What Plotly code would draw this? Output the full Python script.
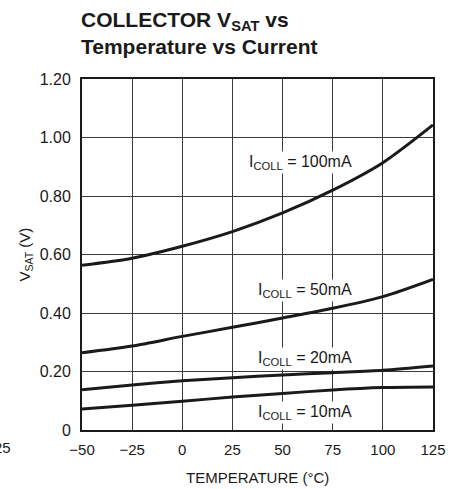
import plotly.graph_objects as go

temperature = [-50, -25, 0, 25, 50, 75, 100, 125]
vsat_100ma = [0.563, 0.587, 0.628, 0.678, 0.742, 0.820, 0.914, 1.043]
vsat_50ma = [0.264, 0.287, 0.320, 0.351, 0.383, 0.416, 0.456, 0.515]
vsat_20ma = [0.138, 0.154, 0.168, 0.179, 0.188, 0.196, 0.204, 0.219]
vsat_10ma = [0.072, 0.085, 0.098, 0.113, 0.125, 0.137, 0.145, 0.147]

x_ticks = [-50, -25, 0, 25, 50, 75, 100, 125]
x_tick_text = ["\u221250", "\u221225", "0", "25", "50", "75", "100", "125"]
y_ticks = [0, 0.2, 0.4, 0.6, 0.8, 1.0, 1.2]
y_tick_text = ["0", "0.20", "0.40", "0.60", "0.80", "1.00", "1.20"]

labels = ["I<sub>COLL</sub> = 100mA", "I<sub>COLL</sub> = 50mA",
          "I<sub>COLL</sub> = 20mA", "I<sub>COLL</sub> = 10mA"]
label_x = [59, 61, 61, 61]
label_y = [0.915, 0.478, 0.243, 0.061]

FONT = "Liberation Sans, Arial, sans-serif"
INK = "#1a1a1a"

L, R, T, B = 82, 30, 79, 59
W, H = 463, 489
PW, PH = W - L - R, H - T - B

fig = go.Figure()
for ys in [vsat_100ma, vsat_50ma, vsat_20ma, vsat_10ma]:
    fig.add_trace(go.Scatter(x=temperature, y=ys, mode="lines",
                             line=dict(color=INK, width=3, shape="spline", smoothing=0.8),
                             showlegend=False, hoverinfo="skip"))

for t, xx, yy in zip(labels, label_x, label_y):
    fig.add_annotation(x=xx, y=yy, xref="x", yref="y", text=t, showarrow=False,
                       font=dict(family=FONT, size=16, color=INK),
                       bgcolor="white", borderpad=1)

# title as annotation (pixel-placed relative to plot area)
fig.add_annotation(x=(79 - L) / PW, y=(H - B - 6) / PH, xref="paper", yref="paper",
                   xanchor="left", yanchor="top", align="left", showarrow=False,
                   text="<b>COLLECTOR V<sub>SAT</sub> vs<br>Temperature vs Current</b>",
                   font=dict(family=FONT, size=21, color=INK))

# x-axis title
fig.add_annotation(x=0.5, y=(H - B - 477) / PH, xref="paper", yref="paper",
                   text="TEMPERATURE (\u00b0C)", showarrow=False,
                   xanchor="center", yanchor="middle",
                   font=dict(family=FONT, size=15, color=INK))

# y-axis title
fig.add_annotation(x=(25 - L) / PW, y=0.5, xref="paper", yref="paper",
                   text="V<sub>SAT</sub> (V)", showarrow=False, textangle=-90,
                   xanchor="center", yanchor="middle",
                   font=dict(family=FONT, size=15, color=INK))

# fragment of neighbouring chart's tick label at far left
fig.add_annotation(x=(13 - L) / PW, y=(H - B - 447) / PH, xref="paper", yref="paper",
                   text="25", showarrow=False, xanchor="right", yanchor="middle",
                   font=dict(family=FONT, size=15, color=INK))

fig.update_layout(
    width=W, height=H,
    margin=dict(l=L, r=R, t=T, b=B),
    paper_bgcolor="white", plot_bgcolor="white",
    font=dict(family=FONT, size=15, color=INK),
)
fig.update_xaxes(range=[-50, 125], tickvals=x_ticks, ticktext=x_tick_text,
                 showgrid=True, gridcolor="#3a3a3a", gridwidth=1,
                 showline=True, linecolor=INK, linewidth=2, mirror=True,
                 zeroline=False, ticks="", automargin=False, ticklabelstandoff=5,
                 tickfont=dict(family=FONT, size=15, color=INK))
fig.update_yaxes(range=[0, 1.2], tickvals=y_ticks, ticktext=y_tick_text,
                 showgrid=True, gridcolor="#3a3a3a", gridwidth=1,
                 showline=True, linecolor=INK, linewidth=2, mirror=True,
                 zeroline=False, ticks="", automargin=False, ticklabelstandoff=6,
                 tickfont=dict(family=FONT, size=16, color=INK))

fig.write_html("out.html", config={"displayModeBar": False},
               post_script="document.body.style.margin='0';document.body.style.overflow='hidden';")
